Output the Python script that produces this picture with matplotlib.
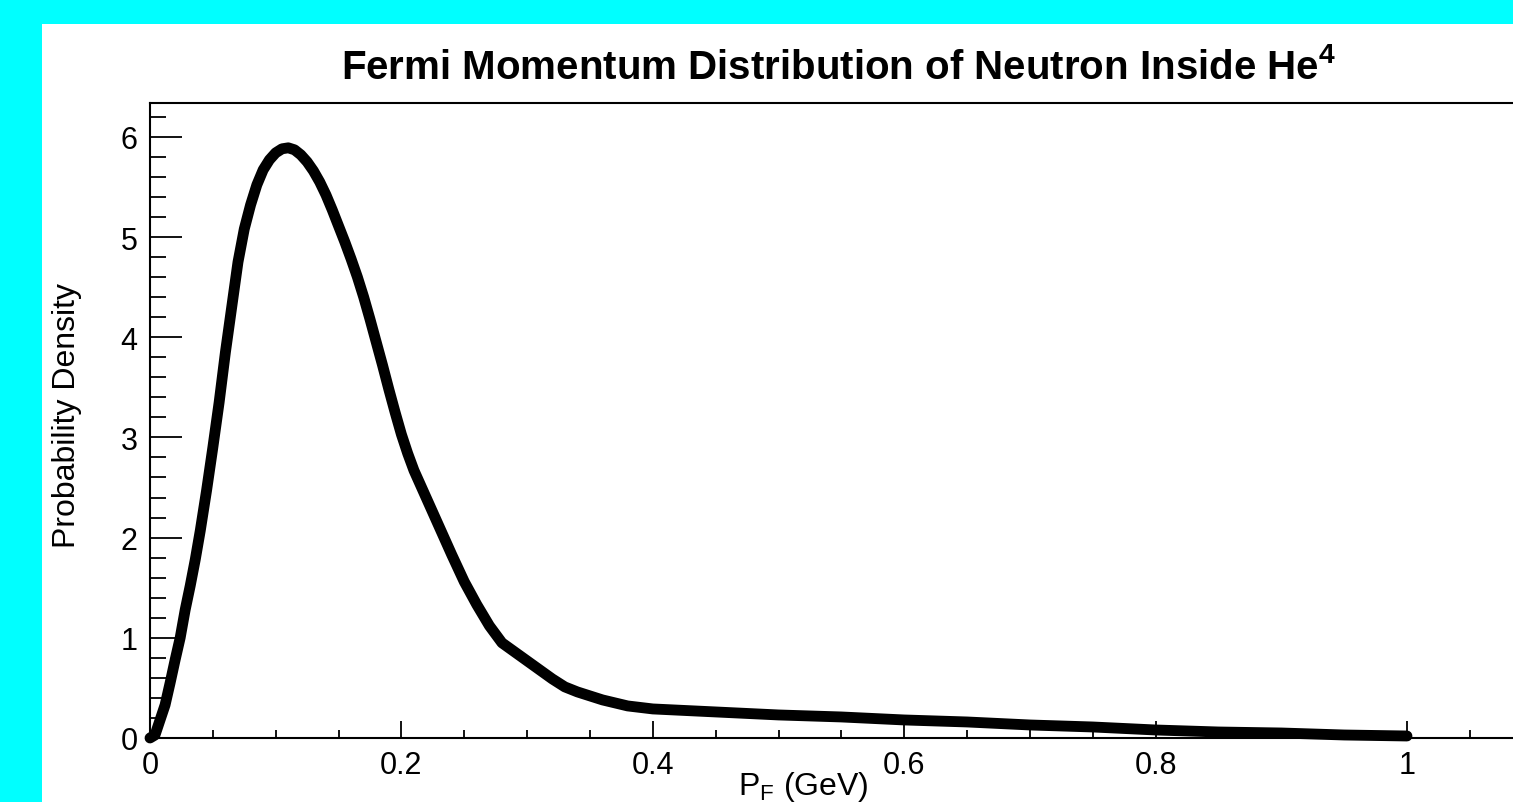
import matplotlib
matplotlib.use("Agg")
import matplotlib.pyplot as plt
from matplotlib.patches import Rectangle
from matplotlib.ticker import MultipleLocator

plt.rcParams['font.family'] = ['Liberation Sans', 'DejaVu Sans']
plt.rcParams['mathtext.fontset'] = 'custom'
plt.rcParams['mathtext.rm'] = 'Liberation Sans'
plt.rcParams['mathtext.bf'] = 'Liberation Sans:bold'

# Data
p_f = [0, 0.004, 0.008, 0.012, 0.016, 0.020, 0.024, 0.028, 0.032, 0.036, 0.040,
       0.045, 0.050, 0.055, 0.060, 0.065, 0.070, 0.075, 0.080, 0.085, 0.090,
       0.095, 0.100, 0.105, 0.110, 0.115, 0.120, 0.125, 0.130, 0.135, 0.140,
       0.145, 0.150, 0.155, 0.160, 0.165, 0.170, 0.175, 0.180, 0.185, 0.190,
       0.195, 0.200, 0.205, 0.210, 0.220, 0.230, 0.240, 0.250, 0.260, 0.270,
       0.280, 0.290, 0.300, 0.310, 0.320, 0.330, 0.340, 0.350, 0.360, 0.380,
       0.400, 0.450, 0.500, 0.550, 0.600, 0.650, 0.700, 0.750, 0.800, 0.850,
       0.900, 0.950, 1.000]
density = [0, 0.03, 0.18, 0.33, 0.55, 0.78, 1.00, 1.28, 1.52, 1.78, 2.07,
           2.47, 2.90, 3.35, 3.85, 4.30, 4.75, 5.08, 5.32, 5.52, 5.67,
           5.77, 5.84, 5.88, 5.89, 5.87, 5.82, 5.75, 5.66, 5.55, 5.42,
           5.27, 5.11, 4.95, 4.78, 4.60, 4.40, 4.18, 3.95, 3.72, 3.48,
           3.25, 3.03, 2.84, 2.67, 2.39, 2.11, 1.83, 1.56, 1.33, 1.12,
           0.95, 0.86, 0.77, 0.68, 0.59, 0.51, 0.46, 0.42, 0.38, 0.32,
           0.29, 0.26, 0.23, 0.21, 0.18, 0.16, 0.13, 0.11, 0.08, 0.06,
           0.05, 0.03, 0.02]
xticks = [0, 0.2, 0.4, 0.6, 0.8, 1]
xticklabels = ['0', '0.2', '0.4', '0.6', '0.8', '1']
yticks = [0, 1, 2, 3, 4, 5, 6]
yticklabels = ['0', '1', '2', '3', '4', '5', '6']

W, H = 1513, 803
fig = plt.figure(figsize=(W / 100, H / 100), dpi=100, facecolor='#00FFFF')
fig.patches.append(Rectangle((42 / W, 0), 1 - 42 / W, (H - 25) / H,
                             transform=fig.transFigure, facecolor='white',
                             edgecolor='none', zorder=-5))

ax = fig.add_axes([150 / W, (H - 739) / H, (W - 150) / W, (739 - 104) / H])
ax.set_zorder(2)
ax.set_facecolor('white')
ax.plot(p_f, density, color='black', lw=7.8, solid_capstyle='round',
        solid_joinstyle='round', clip_on=False, zorder=3)

ax.set_xlim(0, (W - 150) / 1257)
ax.set_ylim(0, (739 - 104) / 100.2)
ax.spines['right'].set_visible(False)
for s in ['left', 'top', 'bottom']:
    ax.spines[s].set_linewidth(1.5)

ax.set_xticks(xticks)
ax.set_xticklabels(xticklabels)
ax.set_yticks(yticks)
ax.set_yticklabels(yticklabels)
ax.xaxis.set_minor_locator(MultipleLocator(0.05))
ax.yaxis.set_minor_locator(MultipleLocator(0.2))
ax.tick_params(axis='x', which='major', direction='in', length=12, width=1.3,
               labelsize=22, pad=9, top=False)
ax.tick_params(axis='x', which='minor', direction='in', length=5.5, width=1.3,
               top=False)
ax.tick_params(axis='y', which='major', direction='in', length=23, width=1.3,
               labelsize=22, pad=9, right=False)
ax.tick_params(axis='y', which='minor', direction='in', length=11.5, width=1.3,
               right=False)

fig.text(803 / W, (H - 795) / H, 'P$_\\mathregular{F}$ (GeV)', fontsize=23,
         ha='center', va='baseline')
fig.text(67 / W, (H - 416) / H, 'Probability Density', fontsize=23,
         rotation=90, ha='center', va='center')

fig.text(839 / W, (H - 79) / H,
         'Fermi Momentum Distribution of Neutron Inside He$^\\mathbf{4}$',
         ha='center', va='baseline', fontsize=29, fontweight='bold')

fig.savefig('out.png', dpi=100, facecolor=fig.get_facecolor())
